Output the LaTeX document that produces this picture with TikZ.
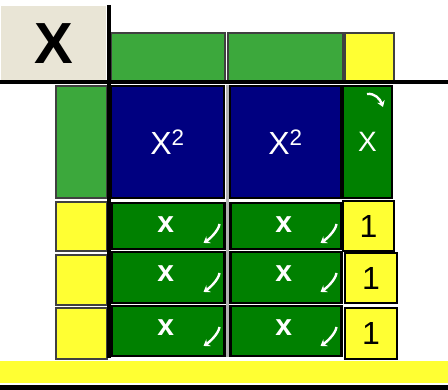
\documentclass[tikz,border=0pt]{standalone}
\usepackage{fontspec}
\setmainfont{Liberation Sans}
\usetikzlibrary{arrows.meta}
\definecolor{paper}{HTML}{E9E5D6}
\definecolor{leafgreen}{HTML}{3CA83C}
\definecolor{darkgreen}{HTML}{008000}
\definecolor{navyblue}{HTML}{000080}
\definecolor{tileyellow}{HTML}{FFFF33}
\definecolor{edgegray}{HTML}{404040}

\begin{document}
\begin{tikzpicture}[x=1pt, y=-1pt,
  tile/.style={draw=edgegray, line width=2pt, anchor=north west, inner sep=0pt},
  square/.style={tile, draw=black, fill=navyblue, text=white,
                 minimum height=112pt, font=\fontsize{32}{32}\selectfont},
  unit/.style={tile, draw=black, line width=2.5pt, fill=darkgreen, text=white,
               font=\fontsize{30}{30}\selectfont},
  one/.style={tile, draw=black, fill=tileyellow, font=\fontsize{32}{32}\selectfont},
  flip/.style={white, line width=2.4pt, -{Stealth[length=6pt, width=8pt]}},
]
\useasboundingbox (0,0) rectangle (448,390);

% header
\node[tile, draw=none, fill=paper, minimum width=105pt, minimum height=75pt,
      font=\bfseries\fontsize{58}{58}\selectfont] (big) at (0,5) {X};
\node[tile, fill=leafgreen, minimum width=114pt, minimum height=48pt] (top1) at (110,32) {};
\node[tile, fill=leafgreen, minimum width=115pt, minimum height=48pt] (top2) at (227,32) {};
\node[tile, fill=tileyellow, minimum width=49pt, minimum height=48pt] (top3) at (344,32) {};

% left column
\node[tile, fill=leafgreen, minimum width=51pt, minimum height=112pt] (side) at (55,85) {};
\node[tile, fill=tileyellow, minimum width=51pt, minimum height=49pt] (side1) at (55,201) {};
\node[tile, fill=tileyellow, minimum width=51pt, minimum height=50pt] (side2) at (55,254) {};
\node[tile, fill=tileyellow, minimum width=51pt, minimum height=51pt] (side3) at (55,307) {};

% squares and x tile
\node[square, minimum width=113pt] (sq1) at (110,85) {X\textsuperscript{2}};
\node[square, minimum width=111pt] (sq2) at (229,85) {X\textsuperscript{2}};
\node[tile, draw=black, fill=darkgreen, text=white, minimum width=49pt, minimum height=112pt,
      font=\fontsize{28}{28}\selectfont] (lin) at (342,85) {X};
\draw[flip] ([shift={(-26,9)}]lin.north east) .. controls +(8,-1) and +(-3,-8) .. ([shift={(-10,22)}]lin.north east);

% unit rows
\node[unit, minimum width=113pt, minimum height=46pt] (u11) at (110,202) {};
\node[unit, minimum width=113pt, minimum height=51pt] (u21) at (110,251) {};
\node[unit, minimum width=113pt, minimum height=50pt] (u31) at (110,305) {};
\node[unit, minimum width=111pt, minimum height=46pt] (u12) at (229,202) {};
\node[unit, minimum width=111pt, minimum height=51pt] (u22) at (229,251) {};
\node[unit, minimum width=111pt, minimum height=50pt] (u32) at (229,305) {};
\foreach \c in {u11,u21,u31,u12,u22,u32} {
  \node[white, font=\bfseries\fontsize{30}{30}\selectfont, inner sep=0pt] at ([shift={(-2,23)}]\c.north) {x};
  \draw[flip] ([shift={(-6,22)}]\c.north east) .. controls +(-1,7) and +(6,-4) .. ([shift={(-22,41)}]\c.north east);
}

% ones
\node[one, minimum width=51pt, minimum height=50pt] (one1) at (342,200) {1};
\node[one, minimum width=52pt, minimum height=50pt] (one2) at (344,252) {1};
\node[one, minimum width=52pt, minimum height=51pt] (one3) at (344,307) {1};

% rulers
\draw[edgegray!40, line width=3pt] (sq1.north east) ++(2.5,0) -- ++(0,272);
\draw[line width=4pt] (0,82) -- (448,82);
\draw[line width=4.5pt] (big.north east) ++(2,0) -- ++(0,353);

% bottom strip
\fill[tileyellow] (0,361) rectangle (448,383);
\fill[black] (0,385) rectangle (448,390);
\end{tikzpicture}
\end{document}
